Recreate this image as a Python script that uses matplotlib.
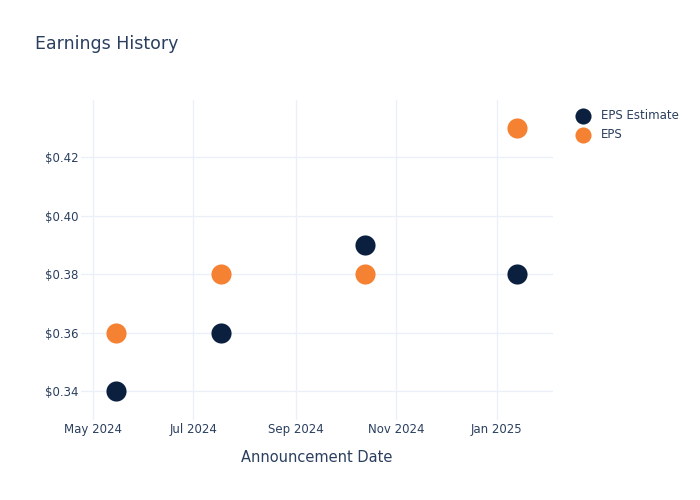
import numpy as np
import matplotlib
matplotlib.use("Agg")
import matplotlib.pyplot as plt
import matplotlib.dates as mdates
from matplotlib.ticker import FuncFormatter
from datetime import datetime

# data
dates = ["2024-05-15", "2024-07-18", "2024-10-13", "2025-01-13"]
eps_estimate = [0.34, 0.36, 0.39, 0.38]
eps_actual = [0.36, 0.38, 0.38, 0.43]

fechas = [datetime.strptime(d, "%Y-%m-%d") for d in dates]
texto = "#2a3f5f"
grade = "#ebf0f8"

fig = plt.figure(figsize=(7, 5), dpi=100)
ax = fig.add_axes([81 / 700, 80 / 500, 472 / 700, 320 / 500])

ax.scatter(fechas, eps_estimate, s=210, color="#0b1f3f", label="EPS Estimate", zorder=3, linewidths=0)
ax.scatter(fechas, eps_actual, s=210, color="#f58233", label="EPS", zorder=3, linewidths=0)

ax.set_xlim(datetime(2024, 4, 24), datetime(2025, 2, 4))
ax.set_ylim(0.3302, 0.4395)
ax.xaxis.set_major_locator(mdates.MonthLocator(bymonth=[1, 3, 5, 7, 9, 11]))
ax.xaxis.set_major_formatter(mdates.DateFormatter("%b %Y"))
ax.set_yticks([0.34, 0.36, 0.38, 0.40, 0.42])
ax.yaxis.set_major_formatter(FuncFormatter(lambda v, p: "$%.2f" % v))

ax.grid(True, color=grade, linewidth=1)
ax.set_axisbelow(True)
for s in ax.spines.values():
    s.set_visible(False)
ax.tick_params(length=0, colors=texto, labelsize=8.5)
ax.tick_params(axis="x", pad=2.5)
ax.tick_params(axis="y", pad=2)
ax.set_xlabel("Announcement Date", color=texto, fontsize=10.5, labelpad=10)

fig.text(35 / 700, 1 - 44 / 500, "Earnings History", color=texto, fontsize=12.5, va="center")

leg = ax.legend(loc="upper left", bbox_to_anchor=(1.015, 1.005), frameon=False,
                fontsize=8.5, handletextpad=0.55, labelspacing=0.5, markerscale=0.8)
for t in leg.get_texts():
    t.set_color(texto)

fig.savefig("out.png", dpi=100)
